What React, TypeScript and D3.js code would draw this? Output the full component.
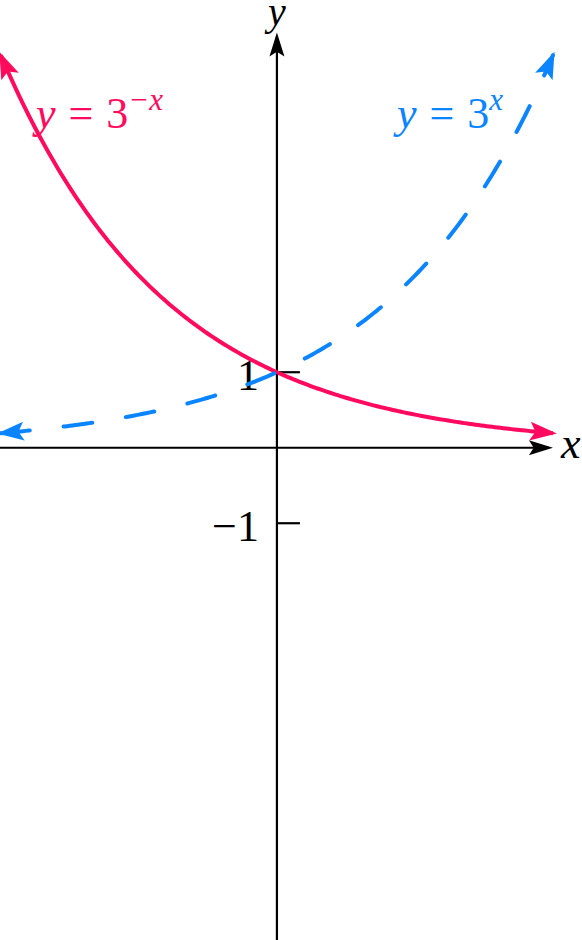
import * as d3 from "d3";
import { useEffect, useRef } from "react";

// plot window (units) and the two curves
const xDomain: [number, number] = [-1.505, 1.658];
const yDomain: [number, number] = [-6.52, 5.93];
const curveRange: [number, number] = [-1.5, 1.5];
const bases = [3, 1 / 3]; // 3^x and 3^-x
const yTicks = [1, -1];
const yTickLabels = ["1", "\u22121"];
const axisEnds = { x: 1.5, y: 5.5 };

const BLUE = "#0a84ff";
const RED = "#ff0a5c";
const FONT = "'Liberation Serif', 'DejaVu Serif', serif";

export default function ExpPlot() {
  const ref = useRef<SVGSVGElement>(null);

  useEffect(() => {
    const width = 582;
    const height = 940;

    const svg = d3.select(ref.current);
    svg.selectAll("*").remove();
    svg.attr("width", width).attr("height", height);

    const x = d3.scaleLinear().domain(xDomain).range([0, width]);
    const y = d3.scaleLinear().domain(yDomain).range([height, 0]);

    const defs = svg.append("defs");
    const marker = (id: string, color: string, len: number, half: number) => {
      defs.append("marker")
        .attr("id", id)
        .attr("viewBox", `${-len - 1} ${-half - 1} ${len + 2} ${half * 2 + 2}`)
        .attr("refX", -4)
        .attr("refY", 0)
        .attr("markerWidth", len + 2)
        .attr("markerHeight", half * 2 + 2)
        .attr("markerUnits", "userSpaceOnUse")
        .attr("orient", "auto-start-reverse")
        .append("path")
        .attr("d", `M0,0 L${-len},${-half} L${-len * 0.8},0 L${-len},${half} Z`)
        .attr("fill", color);
    };
    marker("arrow-black", "#000", 24, 7.5);
    marker("arrow-red", RED, 27, 9.5);
    marker("arrow-blue", BLUE, 27, 9.5);

    const x0 = x(0);
    const y0 = y(0);

    // axes
    svg.append("line")
      .attr("x1", 0).attr("y1", y0)
      .attr("x2", x(axisEnds.x) - 4).attr("y2", y0)
      .attr("stroke", "#000").attr("stroke-width", 2.2)
      .attr("marker-end", "url(#arrow-black)");
    svg.append("line")
      .attr("x1", x0).attr("y1", height)
      .attr("x2", x0).attr("y2", y(axisEnds.y) + 4)
      .attr("stroke", "#000").attr("stroke-width", 2.2)
      .attr("marker-end", "url(#arrow-black)");

    // y ticks
    yTicks.forEach((t, i) => {
      svg.append("line")
        .attr("x1", x0).attr("x2", x0 + 23)
        .attr("y1", y(t)).attr("y2", y(t))
        .attr("stroke", "#000").attr("stroke-width", 2.2);
      svg.append("text")
        .attr("x", x0 - 18).attr("y", y(t) + 18)
        .attr("text-anchor", "end")
        .attr("font-family", FONT).attr("font-size", 44)
        .text(yTickLabels[i]);
    });

    // axis labels
    svg.append("text")
      .attr("x", x(axisEnds.x) + 8).attr("y", y0 + 10)
      .attr("font-family", FONT).attr("font-style", "italic").attr("font-size", 44)
      .text("x");
    svg.append("text")
      .attr("x", x0 - 9).attr("y", 25)
      .attr("font-family", FONT).attr("font-style", "italic").attr("font-size", 40)
      .text("y");

    // curves
    const pts = (b: number) =>
      d3.range(0, 201).map(i => {
        const xv = curveRange[0] + (i / 200) * (curveRange[1] - curveRange[0]);
        return [xv, Math.pow(b, xv)] as [number, number];
      });
    const line = d3.line<[number, number]>().x(d => x(d[0])).y(d => y(d[1])).curve(d3.curveBasis);

    svg.append("path")
      .attr("d", line(pts(bases[1])))
      .attr("fill", "none").attr("stroke", RED).attr("stroke-width", 4)
      .attr("marker-start", "url(#arrow-red)")
      .attr("marker-end", "url(#arrow-red)");

    svg.append("path")
      .attr("d", line(pts(bases[0])))
      .attr("fill", "none").attr("stroke", BLUE).attr("stroke-width", 4)
      .attr("stroke-linecap", "round")
      .attr("stroke-dasharray", "29 34")
      .attr("marker-start", "url(#arrow-blue)")
      .attr("marker-end", "url(#arrow-blue)");

    // curve labels
    const label = (lx: number, color: string, sup: string) => {
      const t = svg.append("text")
        .attr("x", lx).attr("y", 128)
        .attr("font-family", FONT).attr("font-size", 44)
        .attr("fill", color);
      t.append("tspan").attr("font-style", "italic").text("y");
      t.append("tspan").attr("dx", 13).text("=");
      t.append("tspan").attr("dx", 13).text("3");
      t.append("tspan").attr("dy", -18).attr("font-size", 31).attr("font-style", "italic").text(sup);
    };
    label(36, RED, "\u2212x");
    label(397, BLUE, "x");
  }, []);

  return <svg ref={ref} style={{ position: "absolute", left: 0, top: 0 }} />;
}
